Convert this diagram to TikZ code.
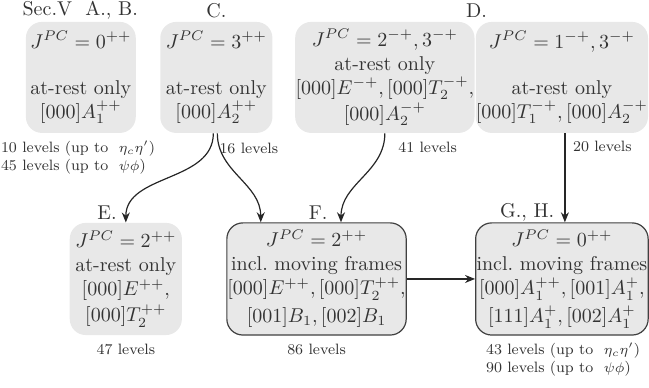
\documentclass[tikz,border=0pt]{standalone}
\usepackage{amsmath}
\usepackage{tikz}
\usetikzlibrary{arrows.meta, positioning}

\begin{document}
\begin{tikzpicture}[
    font=\fontsize{10}{12}\selectfont,
    text=black!80,
    >={Stealth[length=5pt, width=4pt]},
    restbox/.style={fill=gray!18, rounded corners=8pt, inner sep=0pt, align=center, minimum height=1.95cm},
    movebox/.style={restbox, draw=black!75, line width=0.6pt},
    levels/.style={font=\fontsize{7.5}{9}\selectfont, align=left},
    arrow/.style={->, black!85, line width=0.6pt}
]
\useasboundingbox (0,0) rectangle (11.40,6.80);

% Nodes
\node[restbox, minimum width=1.93cm] (A) at (1.42,5.44) {$J^{PC}=0^{++}$\\[11pt] at-rest only\\ $[000]A_1^{++}$};
\node[restbox, minimum width=1.97cm] (C) at (3.80,5.44) {$J^{PC}=3^{++}$\\[11pt] at-rest only\\ $[000]A_2^{++}$};
\node[restbox, minimum width=3.15cm] (P) at (6.76,5.44) {$J^{PC}=2^{-+},3^{-+}$\\ at-rest only\\ $[000]E^{-+},[000]T_2^{-+},$\\[1pt] $[000]A_2^{-+}$};
\node[restbox, minimum width=3.02cm] (D) at (9.87,5.44) {$J^{PC}=1^{-+},3^{-+}$\\[11pt] at-rest only\\ $[000]T_1^{-+},[000]A_2^{-+}$};

\node[restbox, minimum width=1.97cm, minimum height=1.97cm] (E) at (2.21,1.90) {$J^{PC}=2^{++}$\\ at-rest only\\ $[000]E^{++},$\\[1pt] $[000]T_2^{++}$};
\node[movebox, minimum width=3.15cm, minimum height=1.97cm] (F) at (5.56,1.90) {$J^{PC}=2^{++}$\\ incl.\ moving frames\\ $[000]E^{++},[000]T_2^{++},$\\[2pt] $[001]B_1,[002]B_1$};
\node[movebox, minimum width=3.03cm, minimum height=1.97cm] (G) at (9.87,1.90) {$J^{PC}=0^{++}$\\ incl.\ moving frames\\ $[000]A_1^{++},[001]A_1^{+},$\\[2pt] $[111]A_1^{+},[002]A_1^{+}$};

% Section labels
\node (secAB) at (1.41,6.62) {Sec.V\ \ A., B.};
\node (secC) at (3.80,6.62) {C.};
\node (secD) at (8.37,6.62) {D.};
\node (secE) at (1.88,3.07) {E.};
\node (secF) at (5.59,3.07) {F.};
\node (secGH) at (9.26,3.07) {G., H.};

% Levels
\node[levels] (levA) at (1.37,4.04) {10 levels (up to \ $\eta_c\eta'$)\\45 levels (up to \ $\psi\phi$)};
\node[levels] (levC) at (4.37,4.20) {16 levels};
\node[levels] (levP) at (7.51,4.22) {41 levels};
\node[levels] (levD) at (10.58,4.22) {20 levels};
\node[levels] (levE) at (2.21,0.67) {47 levels};
\node[levels] (levF) at (5.56,0.67) {86 levels};
\node[levels] (levG) at (9.89,0.49) {43 levels (up to \ $\eta_c\eta'$)\\90 levels (up to \ $\psi\phi$)};

% Arrows
\draw[arrow] ([xshift=-1.5pt]C.south) to[out=-90, in=90] (E.north);
\draw[arrow] ([xshift=0.5pt]C.south) to[out=-90, in=90] ([xshift=-0.98cm]F.north);
\draw[arrow] (P.south) to[out=-90, in=90] ([xshift=0.43cm]F.north);
\draw[arrow] ([xshift=1.5pt]D.south) -- ([xshift=1.5pt]G.north);
\draw[arrow] (F) -- (G);

\end{tikzpicture}
\end{document}
